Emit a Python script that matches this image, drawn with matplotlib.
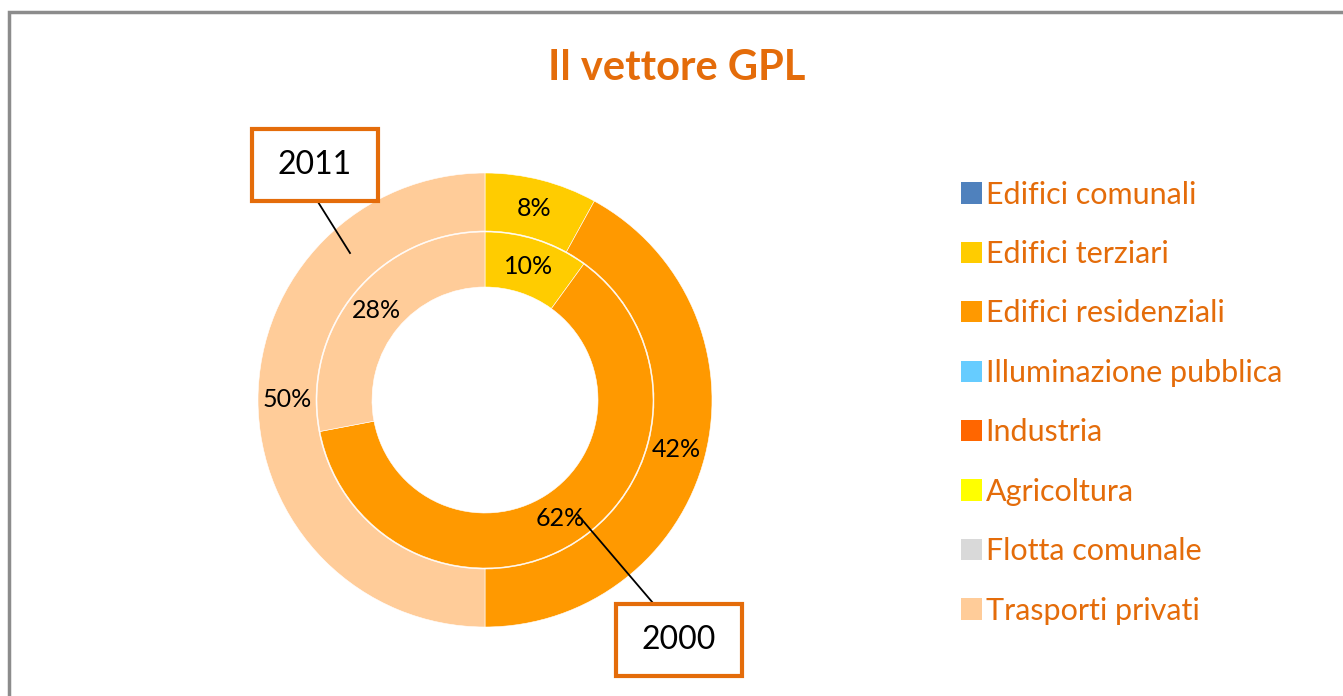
import matplotlib.pyplot as plt
from matplotlib.patches import Patch, Rectangle

categorie = ['Edifici comunali', 'Edifici terziari', 'Edifici residenziali',
             'Illuminazione pubblica', 'Industria', 'Agricoltura',
             'Flotta comunale', 'Trasporti privati']
colori = ['#4F81BD', '#FFCC00', '#FF9900', '#66CCFF',
          '#FF6600', '#FFFF00', '#D9D9D9', '#FFCC99']
quota_2000 = [0, 10, 62, 0, 0, 0, 0, 28]
quota_2011 = [0, 8, 42, 0, 0, 0, 0, 50]

arancio = '#E46C0A'
plt.rcParams['font.family'] = ['Lato', 'DejaVu Sans']

W, H = 1343, 696
fig = plt.figure(figsize=(W / 100, H / 100), dpi=100)
ax = fig.add_axes([0, 0, 1, 1])
ax.set_xlim(0, W)
ax.set_ylim(0, H)
ax.set_aspect('equal')
ax.axis('off')

# cornice grigia
ax.add_patch(Rectangle((9, -30), 1400, H - 12 + 30, fill=False,
                       edgecolor='#8C8C8C', lw=2.5))

centro = (485, H - 400)


def anello(valori, raggio, spessore):
    idx = [i for i, v in enumerate(valori) if v > 0]
    vals = [valori[i] for i in idx]
    cols = [colori[i] for i in idx]
    wedges, _, testi = ax.pie(vals, colors=cols, radius=raggio, center=centro,
                              startangle=90, counterclock=False,
                              autopct='%1.0f%%',
                              pctdistance=1 - spessore / raggio / 2,
                              wedgeprops=dict(width=spessore, edgecolor='white', linewidth=0.4),
                              textprops=dict(fontsize=18, color='black'))
    return wedges


anello(quota_2011, 227, 58)
anello(quota_2000, 168, 55)
ax.set_xlim(0, W)
ax.set_ylim(0, H)

# titolo
ax.text(677, H - 68, 'Il vettore GPL', ha='center', va='center',
        fontsize=30, fontweight='bold', color=arancio)

# etichette anni
for anno, (x0, y0), (lx0, ly0, lx1, ly1) in [
        ('2011', (252, 129), (318, 202, 350, 253)),
        ('2000', (616, 604), (653, 603, 578, 515))]:
    ax.plot([lx0, lx1], [H - ly0, H - ly1], color='black', lw=1.3)
    ax.add_patch(Rectangle((x0, H - y0 - 72), 126, 72, facecolor='white',
                           edgecolor=arancio, lw=3, zorder=5))
    ax.text(x0 + 63, H - y0 - 36, anno, ha='center', va='center',
            fontsize=23, color='black', zorder=6)

# legenda
maniglie = [Patch(facecolor=c, edgecolor='none') for c in colori]
leg = fig.legend(maniglie, categorie, loc='upper left',
                 bbox_to_anchor=(933 / W, 1 - 153 / H), frameon=False,
                 fontsize=22, labelcolor=arancio, handlelength=0.7,
                 handleheight=0.7, handletextpad=0.12, labelspacing=1.03)

fig.savefig('out.png', dpi=100)
